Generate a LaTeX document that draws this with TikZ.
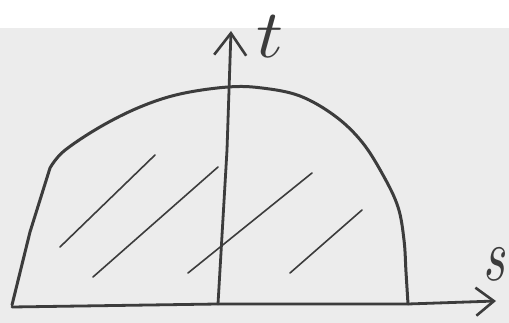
\documentclass[tikz,border=0pt]{standalone}
\usepackage{graphicx}
\usepackage{tikz}
\usepackage{xcolor}
\usetikzlibrary{arrows.meta}
\definecolor{paper}{RGB}{236,236,236}
\definecolor{pencil}{RGB}{60,60,60}
\newcommand{\biglabel}[3]{\scalebox{#1}[#2]{$#3$}}

\begin{document}
\begin{tikzpicture}[
  x=1pt, y=-1pt,
  axis/.style={-{Straight Barb[length=22pt,width=32pt,line width=2.6pt]},
    line width=2.8pt, color=pencil, line cap=round},
  rim/.style={line width=3pt, color=pencil, line join=round, line cap=round},
  hatch/.style={line width=1.6pt, color=pencil, line cap=round},
  axislabel/.style={text=pencil, inner sep=0pt}
]
\fill[paper] (0,0) rectangle (509,323);
\fill[white] (0,0) rectangle (509,28);
\useasboundingbox (0,0) rectangle (509,323);
% region boundary
\draw[rim] (12,305) -- (30,232) -- (50,168)
  plot[smooth, tension=0.6] coordinates {(50,168) (64,151) (100,127)
    (140,107) (180,94) (228,87) (262,88) (300,96) (335,116) (362,142)
    (383,175) (398,207) (404,240) (406,272) (408,304)};
% hatching
\draw[hatch] (60,247) -- (155,155);
\draw[hatch] (93,277) -- (218,167);
\draw[hatch] (188,273) -- (312,173);
\draw[hatch] (290,273) -- (362,210);
% axes
\coordinate (origin) at (218,304);
\coordinate (sEnd) at (496,301);
\coordinate (tEnd) at (231,31);
\draw[axis, -{Straight Barb[length=18pt,width=28pt,line width=2.6pt]}]
  (12,307) -- (origin) -- (408,304) -- (sEnd);
\draw[axis] (origin) -- (227,150) -- (tEnd);
\node[axislabel] (tLabel) at (270,37) {\biglabel{7.5}{6.8}{t}};
\node[axislabel] (sLabel) at (496,264) {\biglabel{5}{7.5}{s}};
\end{tikzpicture}
\end{document}
